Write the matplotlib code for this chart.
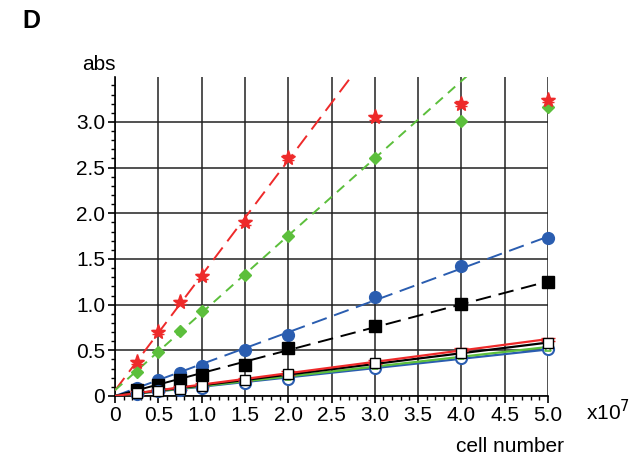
import numpy as np
import matplotlib
matplotlib.use('Agg')
import matplotlib.pyplot as plt
from matplotlib.ticker import MultipleLocator, FixedFormatter, FixedLocator

plt.rcParams['font.family'] = ['Liberation Sans', 'DejaVu Sans']

# cell number (x10^7)
cells = [0.25, 0.5, 0.75, 1.0, 1.5, 2.0, 3.0, 4.0, 5.0]

# absorbance readings per series
red_star = [0.37, 0.70, 1.03, 1.31, 1.90, 2.61, 3.05, 3.20, 3.24]
green_diamond = [0.26, 0.48, 0.71, 0.93, 1.33, 1.75, 2.60, 3.01, 3.16]
blue_circle = [0.09, 0.17, 0.25, 0.33, 0.50, 0.67, 1.08, 1.42, 1.73]
black_square = [0.07, 0.12, 0.17, 0.23, 0.34, 0.52, 0.77, 1.01, 1.25]
red_low = [0.03, 0.06, 0.09, 0.12, 0.18, 0.25, 0.37, 0.51, 0.62]
black_open = [0.03, 0.06, 0.08, 0.11, 0.17, 0.24, 0.36, 0.47, 0.58]
green_open = [0.025, 0.05, 0.075, 0.10, 0.155, 0.21, 0.33, 0.44, 0.53]
blue_open = [0.02, 0.05, 0.07, 0.09, 0.14, 0.19, 0.31, 0.42, 0.51]

# number of points used in the linear fit (saturated ones left out)
fit_n = {'red_star': 6, 'green_diamond': 7}

x_ticks = [0, 0.5, 1.0, 1.5, 2.0, 2.5, 3.0, 3.5, 4.0, 4.5, 5.0]
x_labels = ['0', '0.5', '1.0', '1.5', '2.0', '2.5', '3.0', '3.5', '4.0', '4.5', '5.0']
y_ticks = [0, 0.5, 1.0, 1.5, 2.0, 2.5, 3.0]
y_labels = ['0', '0.5', '1.0', '1.5', '2.0', '2.5', '3.0']


def fit_line(ax, x, y, n, color, ls, lw=1.4, zero=False):
    x = np.array(x[:n])
    y = np.array(y[:n])
    if zero:
        slope = (x * y).sum() / (x * x).sum()
        icpt = 0.0
    else:
        slope, icpt = np.polyfit(x, y, 1)
    xx = np.array([0, 5.0])
    ax.plot(xx, icpt + slope * xx, color=color, ls=ls, lw=lw, zorder=3)


fig = plt.figure(figsize=(6.39, 4.65), dpi=100)
ax = fig.add_axes([0.18, 0.1484, 0.6776, 0.6856])

n_all = len(cells)
long_dash = (0, (8, 4))
short_dash = (0, (5, 3.5))
fit_line(ax, cells, red_star, fit_n['red_star'], '#ee2a2a', long_dash)
fit_line(ax, cells, green_diamond, fit_n['green_diamond'], '#5cbf3c', short_dash)
fit_line(ax, cells, blue_circle, n_all, '#2a5db0', long_dash, zero=True)
fit_line(ax, cells, black_square, n_all, 'black', long_dash, zero=True)
fit_line(ax, cells, blue_open, n_all, '#2a5db0', '-', lw=1.6, zero=True)
fit_line(ax, cells, green_open, n_all, '#5cbf3c', '-', lw=1.6, zero=True)
fit_line(ax, cells, black_open, n_all, 'black', '-', lw=1.6, zero=True)
fit_line(ax, cells, red_low, n_all, '#ee2a2a', '-', lw=1.6, zero=True)

ax.errorbar(cells, red_star, yerr=0.025, fmt='*', color='#ee2a2a', ms=11,
            capsize=4, elinewidth=1, zorder=5, clip_on=False)
ax.plot(cells, green_diamond, 'D', color='#5cbf3c', ms=6, zorder=5, clip_on=False)
ax.plot(cells, blue_circle, 'o', color='#2a5db0', ms=8.5, zorder=5, clip_on=False)
ax.plot(cells, black_square, 's', color='black', ms=8.5, zorder=5, clip_on=False)
ax.errorbar(cells, red_low, yerr=0.02, fmt='none', ecolor='#ee2a2a',
            capsize=5, elinewidth=1, zorder=5, clip_on=False)
ax.plot(cells, blue_open, 'o', mfc='white', mec='#2a5db0', mew=1.5, ms=8,
        ls='none', zorder=5, clip_on=False)
ax.plot(cells, green_open, '^', mfc='white', mec='#5cbf3c', mew=1.2, ms=5,
        ls='none', zorder=6, clip_on=False)
ax.plot(cells, black_open, 's', mfc='white', mec='black', mew=1.0, ms=6.5,
        ls='none', zorder=6, clip_on=False)

ax.set_xlim(0, 5.0)
ax.set_ylim(0, 3.49)
ax.xaxis.set_major_locator(FixedLocator(x_ticks))
ax.xaxis.set_major_formatter(FixedFormatter(x_labels))
ax.yaxis.set_major_locator(FixedLocator(y_ticks))
ax.yaxis.set_major_formatter(FixedFormatter(y_labels))
ax.xaxis.set_minor_locator(MultipleLocator(0.1))
ax.yaxis.set_minor_locator(MultipleLocator(0.1))
ax.tick_params(which='major', direction='out', length=5, width=1.2,
               labelsize=15, pad=2)
ax.tick_params(which='minor', direction='out', length=3, width=1)
ax.grid(True, which='major', color='#222222', lw=1.1, zorder=0)
ax.set_axisbelow(True)
for s in ('top', 'right'):
    ax.spines[s].set_visible(False)
ax.spines['left'].set_linewidth(1.2)
ax.spines['bottom'].set_linewidth(1.2)

fig.text(0.155, 0.84, 'abs', fontsize=15, ha='center', va='bottom')
fig.text(0.035, 0.955, 'D', fontsize=18, fontweight='bold', ha='left', va='center')
fig.text(0.917, 0.115, 'x10$^{7}$', fontsize=15, ha='left', va='center')
fig.text(0.882, 0.04, 'cell number', fontsize=15, ha='right', va='center')

fig.savefig('out.png', dpi=100)
